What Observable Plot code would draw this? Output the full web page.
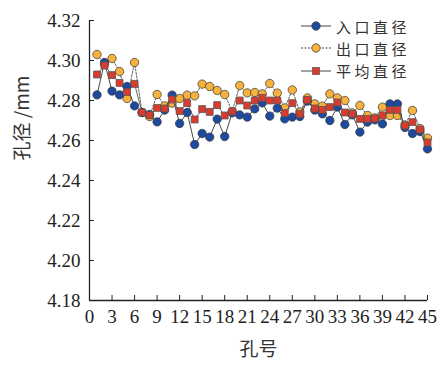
<!DOCTYPE html>
<html>
<head>
<meta charset="utf-8">
<script src="https://cdn.jsdelivr.net/npm/d3@7"></script>
<script src="https://cdn.jsdelivr.net/npm/@observablehq/plot@0.6"></script>
<style>
  body { margin: 0; background: #fff; }
  #wrap { position: relative; width: 439px; height: 366px; }
  .legend { position: absolute; left: 298px; top: 15px; font-family: "Noto Sans CJK SC", serif; font-size: 15px; letter-spacing: 3.5px; color: #333; }
  .legend .row { display: flex; align-items: center; height: 22.3px; }
  .legend span { line-height: 1; }
  .legend svg { margin-right: 4px; }
</style>
</head>
<body>
<div id="wrap"></div>
<script>
const holes = d3.range(1, 46);
const seriesNames = ["入口直径", "出口直径", "平均直径"];
const inlet = [4.2828, 4.2990, 4.2847, 4.2828, 4.2870, 4.2773, 4.2740, 4.2730, 4.2693, 4.2752,
  4.2827, 4.2685, 4.2740, 4.2580, 4.2635, 4.2617, 4.2707, 4.2620, 4.2738, 4.2728,
  4.2717, 4.2758, 4.2788, 4.2722, 4.2762, 4.2708, 4.2717, 4.2720, 4.2797, 4.2752,
  4.2733, 4.2700, 4.2767, 4.2680, 4.2728, 4.2642, 4.2692, 4.2703, 4.2683, 4.2783,
  4.2783, 4.2665, 4.2635, 4.2645, 4.2558];
const outlet = [4.3030, 4.2980, 4.3010, 4.2945, 4.2810, 4.2990, 4.2740, 4.2720, 4.2830, 4.2773,
  4.2787, 4.2810, 4.2827, 4.2823, 4.2882, 4.2870, 4.2850, 4.2830, 4.2745, 4.2875,
  4.2838, 4.2840, 4.2833, 4.2885, 4.2837, 4.2763, 4.2853, 4.2742, 4.2813, 4.2783,
  4.2772, 4.2833, 4.2813, 4.2800, 4.2738, 4.2775, 4.2725, 4.2713, 4.2767, 4.2725,
  4.2725, 4.2678, 4.2750, 4.2660, 4.2612];
const mean = [4.2930, 4.2975, 4.2927, 4.2888, 4.2842, 4.2883, 4.2740, 4.2727, 4.2763, 4.2760,
  4.2805, 4.2747, 4.2787, 4.2705, 4.2757, 4.2743, 4.2777, 4.2725, 4.2745, 4.2800,
  4.2775, 4.2800, 4.2813, 4.2800, 4.2800, 4.2737, 4.2787, 4.2733, 4.2803, 4.2760,
  4.2753, 4.2767, 4.2790, 4.2740, 4.2733, 4.2708, 4.2708, 4.2710, 4.2725, 4.2753,
  4.2753, 4.2675, 4.2692, 4.2655, 4.2590];
const xTicks = d3.range(0, 46, 3);
const yTicks = [4.18, 4.20, 4.22, 4.24, 4.26, 4.28, 4.30, 4.32];
const xLabel = "孔号";
const yLabel = "孔径 /mm";

const colors = { blue: "#1d4a9e", orange: "#f6b13e", red: "#dc3a2c" };
const mk = arr => holes.map((h, i) => ({ hole: h, v: arr[i] }));
const dIn = mk(inlet), dOut = mk(outlet), dMean = mk(mean);

const plot = Plot.plot({
  width: 439, height: 366,
  marginLeft: 89, marginRight: 12, marginTop: 20, marginBottom: 66,
  style: { fontFamily: "'Liberation Serif', serif", fontSize: "19px", color: "#222", background: "#fff" },
  x: { domain: [0, 45], label: null },
  y: { domain: [4.18, 4.32], label: null },
  marks: [
    Plot.axisX({ ticks: xTicks, tickSize: -5, text: null, stroke: "#222", label: null }),
    Plot.axisY({ ticks: yTicks, tickSize: -5, text: null, stroke: "#222", label: null }),
    Plot.axisX({ ticks: xTicks, tickSize: 0, tickPadding: 9, tickFormat: d => String(d), fill: "#222", label: null }),
    Plot.axisY({ ticks: yTicks, tickSize: 0, tickPadding: 9, tickFormat: d3.format(".2f"), fill: "#222", label: null }),
    Plot.ruleX([0], { stroke: "#222", strokeWidth: 1.3 }),
    Plot.ruleY([4.18], { stroke: "#222", strokeWidth: 1.3 }),
    Plot.text([xLabel], { frameAnchor: "bottom", dy: 55, fontFamily: "'Noto Sans CJK SC', sans-serif", fontSize: 19, fill: "#333" }),
    Plot.text([yLabel], { frameAnchor: "left", dx: -67, rotate: -90, fontFamily: "'Noto Sans CJK SC', sans-serif", fontSize: 19, fill: "#333" }),
    Plot.line(dOut, { x: "hole", y: "v", stroke: "#333", strokeWidth: 0.8, strokeDasharray: "2,1.5" }),
    Plot.dot(dOut, { x: "hole", y: "v", r: 4.2, fill: colors.orange, stroke: "#333", strokeWidth: 0.7 }),
    Plot.line(dIn, { x: "hole", y: "v", stroke: "#333", strokeWidth: 0.9 }),
    Plot.dot(dIn, { x: "hole", y: "v", r: 4.2, fill: colors.blue, stroke: "#333", strokeWidth: 0.7 }),
    Plot.line(dMean, { x: "hole", y: "v", stroke: "#555", strokeWidth: 0.9 }),
    Plot.dot(dMean, { x: "hole", y: "v", r: 3.9, symbol: "square", fill: colors.red, stroke: "#555", strokeWidth: 0.8 })
  ]
});
const wrap = document.getElementById("wrap");
wrap.appendChild(plot);

// Legend
const legend = document.createElement("div");
legend.className = "legend";
const styles = [
  { fill: colors.blue, dash: null, sym: "circle", stroke: "#333" },
  { fill: colors.orange, dash: "2,1.5", sym: "circle", stroke: "#333" },
  { fill: colors.red, dash: null, sym: "square", stroke: "#555" }
];
seriesNames.forEach((name, i) => {
  const s = styles[i];
  const row = document.createElement("div");
  row.className = "row";
  const ns = "http://www.w3.org/2000/svg";
  const svg = document.createElementNS(ns, "svg");
  svg.setAttribute("width", 34); svg.setAttribute("height", 20);
  const line = document.createElementNS(ns, "line");
  line.setAttribute("x1", 3); line.setAttribute("x2", 33); line.setAttribute("y1", 10); line.setAttribute("y2", 10);
  line.setAttribute("stroke", "#444"); line.setAttribute("stroke-width", 1);
  if (s.dash) line.setAttribute("stroke-dasharray", s.dash);
  svg.appendChild(line);
  let m;
  if (s.sym === "circle") {
    m = document.createElementNS(ns, "circle");
    m.setAttribute("cx", 18); m.setAttribute("cy", 10); m.setAttribute("r", 4.2);
  } else {
    m = document.createElementNS(ns, "rect");
    m.setAttribute("x", 14.5); m.setAttribute("y", 6.5); m.setAttribute("width", 7); m.setAttribute("height", 7);
  }
  m.setAttribute("fill", s.fill); m.setAttribute("stroke", s.stroke); m.setAttribute("stroke-width", 0.7);
  svg.appendChild(m);
  row.appendChild(svg);
  const t = document.createElement("span");
  t.textContent = name;
  row.appendChild(t);
  legend.appendChild(row);
});
wrap.appendChild(legend);
</script>
</body>
</html>
